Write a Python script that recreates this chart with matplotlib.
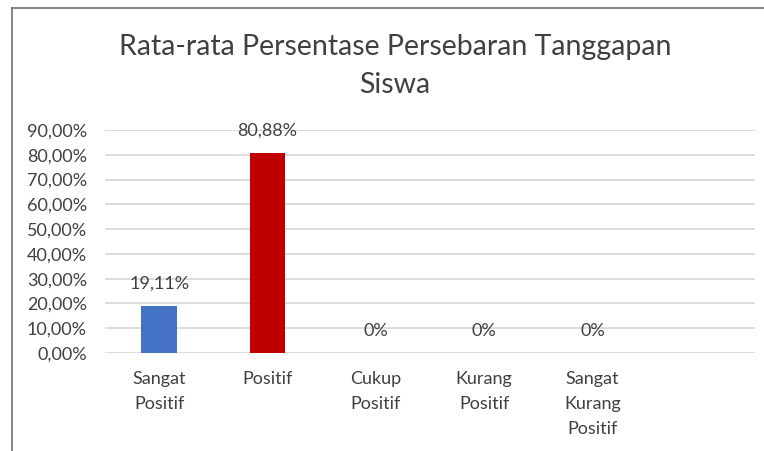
import numpy as np
import matplotlib.pyplot as plt
from matplotlib.lines import Line2D

categories = ["Sangat\nPositif", "Positif", "Cukup\nPositif", "Kurang\nPositif", "Sangat\nKurang\nPositif", ""]
values = [19.11, 80.88, 0, 0, 0]
value_labels = ["19,11%", "80,88%", "0%", "0%", "0%"]
bar_colors = ["#4472C4", "#C00000", "#4472C4", "#4472C4", "#4472C4"]
yticks = np.arange(0, 100, 10)
ytick_labels = ["%d,00%%" % t for t in yticks]

plt.rcParams['font.family'] = ['Lato', 'DejaVu Sans']

fig = plt.figure(figsize=(7.64, 4.51), dpi=100)
ax = fig.add_axes([105 / 764, 1 - 353 / 451, 650 / 764, 223 / 451])

x = np.arange(len(values))
ax.bar(x, values, width=0.33, color=bar_colors, zorder=3)
for xi, v, lab in zip(x, values, value_labels):
    ax.annotate(lab, (xi, v), xytext=(0, 16), textcoords='offset points',
                ha='center', va='center', fontsize=13, color='#404040')

ax.set_xlim(-0.5, len(categories) - 0.5)
ax.set_ylim(0, 90)
ax.set_yticks(yticks)
ax.set_yticklabels(ytick_labels, fontsize=13, color='#404040')
ax.set_xticks(np.arange(len(categories)))
ax.set_xticklabels(categories, fontsize=13, color='#404040', va='top', linespacing=1.68)
ax.tick_params(axis='both', length=0)
ax.tick_params(axis='x', pad=13)
ax.tick_params(axis='y', pad=13)
ax.grid(axis='y', color='#d9d9d9', linewidth=1.3, zorder=0)
for s in ax.spines.values():
    s.set_visible(False)

fig.text(395 / 764, 1 - 66 / 451, "Rata-rata Persentase Persebaran Tanggapan\nSiswa",
         ha='center', va='center', fontsize=20.5, color='#404040', linespacing=1.6)

# chart area border (left and top only)
fig.add_artist(Line2D([12 / 764, 12 / 764], [0, 1 - 8 / 451], color='#6f6f6f', linewidth=1.2))
fig.add_artist(Line2D([12 / 764, 1], [1 - 8 / 451, 1 - 8 / 451], color='#6f6f6f', linewidth=1.2))

fig.savefig("out.png", dpi=100)
